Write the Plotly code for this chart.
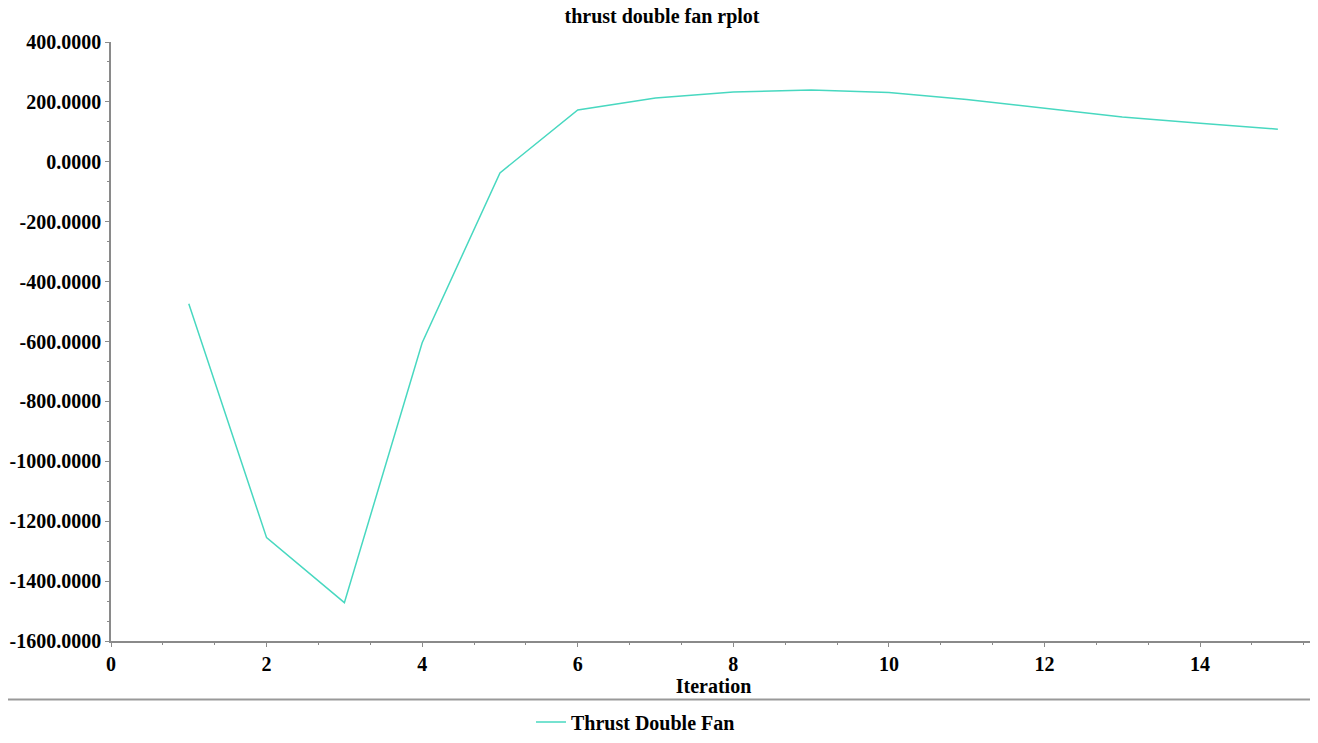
import plotly.graph_objects as go

iterations = [1, 2, 3, 4, 5, 6, 7, 8, 9, 10, 11, 12, 13, 14, 15]
thrust = [-474, -1255, -1472, -604, -37, 173, 213, 233, 240, 231, 208, 178, 150, 129, 109]

y_tick_values = [-1600, -1400, -1200, -1000, -800, -600, -400, -200, 0, 200, 400]
y_tick_labels = ["-1600.0000", "-1400.0000", "-1200.0000", "-1000.0000", "-800.0000",
                 "-600.0000", "-400.0000", "-200.0000", "0.0000", "200.0000", "400.0000"]

series_name = "Thrust Double Fan"
title_text = "thrust double fan rplot"
x_title = "Iteration"

FONT = "Liberation Serif"
LINE_COLOR = "#48D8C0"
AXIS_COLOR = "#8a8a8a"

fig = go.Figure()
fig.add_trace(go.Scatter(
    x=iterations, y=thrust, mode="lines", name=series_name,
    line=dict(color=LINE_COLOR, width=1.5),
))

# page body has an 8px margin; work in page coordinates and subtract it
OFF = 8
W, H = 1318 - OFF, 743 - 2 * OFF
PL, PR, PT, PB = 111, 1316, 42, 641  # plot area in page pixels
L, T = PL - OFF, PT - OFF
R = W - (PR - OFF)
B = H - (PB - OFF)
plot_w = PR - PL
plot_h = PB - PT

fig.update_layout(
    width=W, height=H,
    margin=dict(l=L, r=R, t=T, b=B, autoexpand=False),
    paper_bgcolor="white", plot_bgcolor="white",
    font=dict(family=FONT, color="black", size=20),
    title=dict(text="<b>" + title_text + "</b>", x=(662 - OFF) / W, xref="container",
               xanchor="center",
               y=1, yref="container", yanchor="top", pad=dict(t=1, b=0),
               font=dict(size=20, family=FONT)),
    showlegend=True,
    legend=dict(orientation="h", x=(531 - PL) / plot_w, xanchor="left",
                y=(PB - 722) / plot_h, yanchor="middle",
                font=dict(size=20, family=FONT, weight="bold"),
                bgcolor="rgba(0,0,0,0)", itemwidth=30),
    xaxis=dict(
        range=[0, 15.49], showgrid=False, zeroline=False, automargin=False,
        showline=True, linecolor=AXIS_COLOR, linewidth=1.5,
        tickmode="linear", tick0=0, dtick=2,
        ticks="outside", ticklen=4, tickcolor=AXIS_COLOR,
        tickfont=dict(size=20, family=FONT, weight="bold"),
        minor=dict(ticks="outside", ticklen=2, tickcolor=AXIS_COLOR, dtick=2/3, tick0=0),
        title=dict(text="<b>" + x_title + "</b>", font=dict(size=20, family=FONT), standoff=2),
    ),
    yaxis=dict(
        range=[-1600, 400], showgrid=False, zeroline=False, automargin=False,
        showline=True, linecolor=AXIS_COLOR, linewidth=1.5,
        tickmode="array", tickvals=y_tick_values, ticktext=y_tick_labels,
        ticks="outside", ticklen=4, tickcolor=AXIS_COLOR,
        tickfont=dict(size=20, family=FONT, weight="bold"),
        minor=dict(ticks="outside", ticklen=2, tickcolor=AXIS_COLOR, dtick=200/3, tick0=-1600),
    ),
)

fig.add_shape(type="line", xref="paper", yref="paper",
              x0=(7 - PL) / plot_w, x1=(1318 - PL) / plot_w,
              y0=(PB - 699.5) / plot_h, y1=(PB - 699.5) / plot_h,
              line=dict(color="#999999", width=2))

fig.write_html("out.html")
